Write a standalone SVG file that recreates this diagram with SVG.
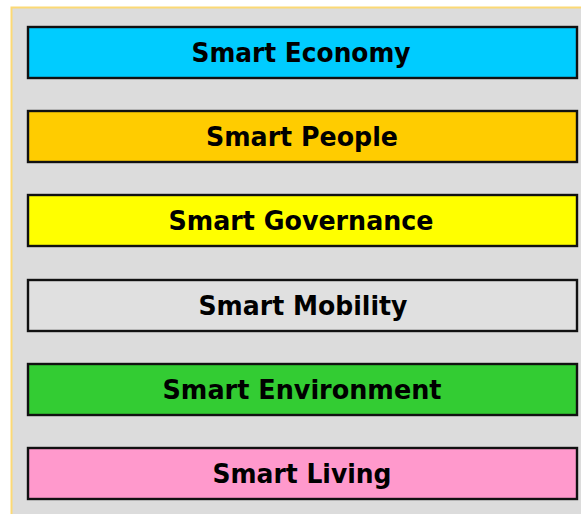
<svg xmlns="http://www.w3.org/2000/svg" width="581" height="514" viewBox="0 0 581 514">
<style>
.bg{fill:#dcdcdc;stroke:none}
.edge{stroke:#fcd975;stroke-width:2;fill:none}
.box{stroke:#111;stroke-width:2.4}
.lbl{font-family:"DejaVu Sans",Verdana,sans-serif;font-weight:bold;font-size:26px;fill:#000;text-anchor:middle}
</style>
<rect class="bg" x="12" y="8" width="569" height="506"/>
<path class="edge" d="M11.5,514 V7.5 H581"/>
<g id="economy"><rect class="box" x="28" y="27" width="549" height="51" fill="#00ccff"/><text class="lbl" x="301" y="62" textLength="219" lengthAdjust="spacingAndGlyphs">Smart Economy</text></g>
<g id="people"><rect class="box" x="28" y="111" width="549" height="51" fill="#ffcc00"/><text class="lbl" x="302" y="146" textLength="192" lengthAdjust="spacingAndGlyphs">Smart People</text></g>
<g id="governance"><rect class="box" x="28" y="195" width="549" height="51" fill="#ffff00"/><text class="lbl" x="301" y="230" textLength="265" lengthAdjust="spacingAndGlyphs">Smart Governance</text></g>
<g id="mobility"><rect class="box" x="28" y="280" width="549" height="51" fill="#e0e0e0"/><text class="lbl" x="303" y="315" textLength="209" lengthAdjust="spacingAndGlyphs">Smart Mobility</text></g>
<g id="environment"><rect class="box" x="28" y="364" width="549" height="51" fill="#33cc33"/><text class="lbl" x="302" y="399" textLength="279" lengthAdjust="spacingAndGlyphs">Smart Environment</text></g>
<g id="living"><rect class="box" x="28" y="448" width="549" height="51" fill="#ff99cc"/><text class="lbl" x="302" y="483" textLength="179" lengthAdjust="spacingAndGlyphs">Smart Living</text></g>
</svg>
